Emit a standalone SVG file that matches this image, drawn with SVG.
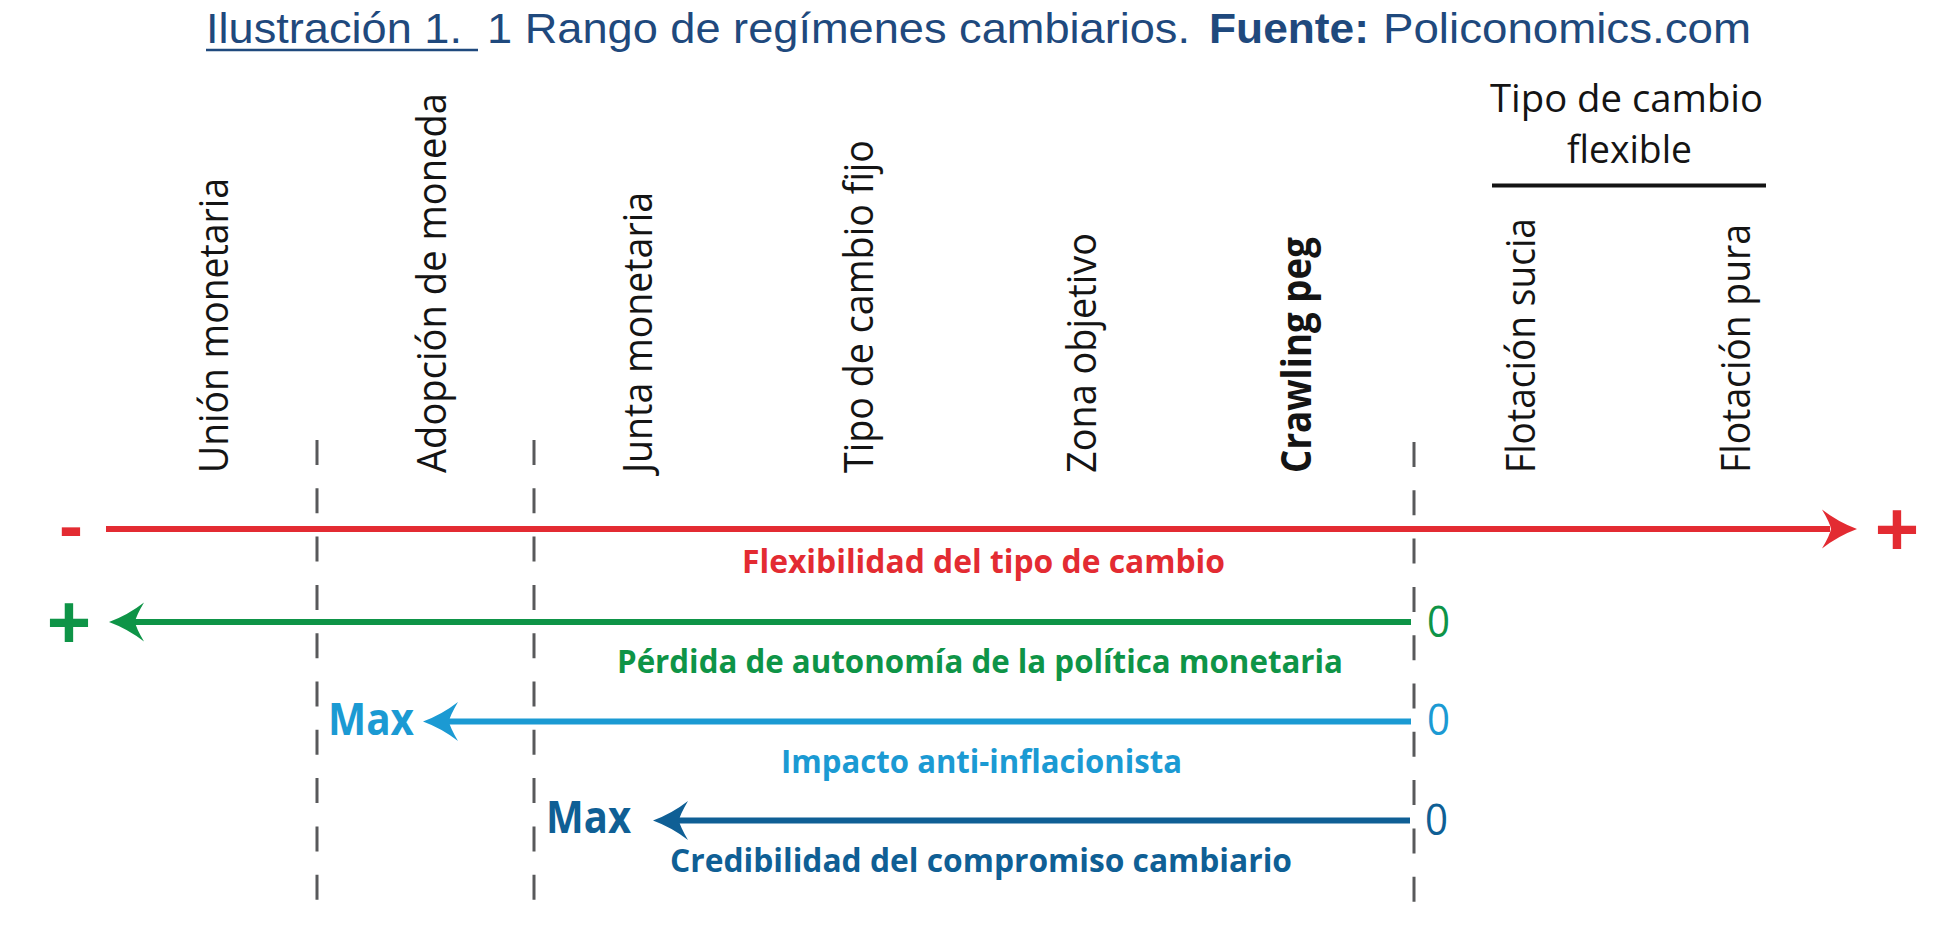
<svg xmlns="http://www.w3.org/2000/svg" xmlns:xlink="http://www.w3.org/1999/xlink" width="1960" height="927" viewBox="0 0 1960 927">
<style>
  .title { font-family: "Liberation Sans", Arial, sans-serif; font-size: 43px; fill: #1f497d; }
  .tb { font-weight: bold; }
  .reg { font-family: "Open Sans", "Noto Sans", sans-serif; font-size: 41px; fill: #141414; }
  .regb { font-weight: bold; }
  .hdr { font-family: "Open Sans", "Noto Sans", sans-serif; font-size: 38px; fill: #141414; }
  .lab { font-family: "Open Sans", "Noto Sans", sans-serif; font-size: 32px; font-weight: bold; }
  .max { font-family: "Open Sans", "Noto Sans", sans-serif; font-size: 45px; font-weight: bold; }
  .zero { font-family: "Open Sans", "Noto Sans", sans-serif; font-size: 44px; }
  .sym { font-family: "Liberation Sans", Arial, sans-serif; font-weight: bold; }
  .dash { stroke: #58595b; stroke-width: 3; stroke-dasharray: 25 23.3; fill: none; }
  .red { fill: #e32b32; } .green { fill: #0e9447; } .lblue { fill: #1b9ad3; } .dblue { fill: #0f5f95; }
  .sred { stroke: #e32b32; } .sgreen { stroke: #0e9447; } .slblue { stroke: #1b9ad3; } .sdblue { stroke: #0f5f95; }
  .shaft { stroke-width: 6; fill: none; }
</style>
<defs>
  <path id="ah" d="M0,0 Q-19,-7 -35,-19.5 Q-27,-6 -26,0 Q-27,6 -35,19.5 Q-19,7 0,0 Z"/>
</defs>
<rect width="1960" height="927" fill="#ffffff"/>

<g id="title">
  <text class="title" x="206" y="43" textLength="256" lengthAdjust="spacingAndGlyphs">Ilustración 1.</text>
  <line x1="206" y1="50" x2="478" y2="50" stroke="#1f497d" stroke-width="2.5"/>
  <text class="title" x="487" y="43" textLength="703" lengthAdjust="spacingAndGlyphs">1 Rango de regímenes cambiarios.</text>
  <text class="title tb" x="1209" y="43" textLength="160" lengthAdjust="spacingAndGlyphs">Fuente:</text>
  <text class="title" x="1383" y="43" textLength="368" lengthAdjust="spacingAndGlyphs">Policonomics.com</text>
</g>

<g id="connectors">
  <line class="dash" x1="317" y1="440" x2="317" y2="903"/>
  <line class="dash" x1="534" y1="440" x2="534" y2="903"/>
  <line class="dash" x1="1414" y1="442" x2="1414" y2="905"/>
  <line x1="1492" y1="185.5" x2="1766" y2="185.5" stroke="#141414" stroke-width="4"/>
  <g id="arrow-flexibilidad">
    <line class="shaft sred" x1="106" y1="529" x2="1830" y2="529"/>
    <use xlink:href="#ah" class="red" transform="translate(1857,529)"/>
  </g>
  <g id="arrow-autonomia">
    <line class="shaft sgreen" x1="135" y1="622" x2="1411" y2="622" stroke-width="5.5"/>
    <use xlink:href="#ah" class="green" transform="translate(109,622) scale(-1,1)"/>
  </g>
  <g id="arrow-inflacion">
    <line class="shaft slblue" x1="448" y1="721.5" x2="1411" y2="721.5" stroke-width="5.5"/>
    <use xlink:href="#ah" class="lblue" transform="translate(423,721.5) scale(-1,1)"/>
  </g>
  <g id="arrow-credibilidad">
    <line class="shaft sdblue" x1="678" y1="820.5" x2="1410" y2="820.5" stroke-width="5.5"/>
    <use xlink:href="#ah" class="dblue" transform="translate(653,820.5) scale(-1,1)"/>
  </g>
</g>

<g id="regimes">
  <g id="union-monetaria"><text class="reg" transform="translate(228,473) rotate(-90)" textLength="295" lengthAdjust="spacingAndGlyphs">Unión monetaria</text></g>
  <g id="adopcion-moneda"><text class="reg" transform="translate(446,473) rotate(-90)" textLength="380" lengthAdjust="spacingAndGlyphs">Adopción de moneda</text></g>
  <g id="junta-monetaria"><text class="reg" transform="translate(652,473) rotate(-90)" textLength="281" lengthAdjust="spacingAndGlyphs">Junta monetaria</text></g>
  <g id="tipo-cambio-fijo"><text class="reg" transform="translate(873,473) rotate(-90)" textLength="333" lengthAdjust="spacingAndGlyphs">Tipo de cambio fijo</text></g>
  <g id="zona-objetivo"><text class="reg" transform="translate(1096,473) rotate(-90)" textLength="240" lengthAdjust="spacingAndGlyphs">Zona objetivo</text></g>
  <g id="crawling-peg"><text class="reg regb" transform="translate(1311,473) rotate(-90)" textLength="236" lengthAdjust="spacingAndGlyphs">Crawling peg</text></g>
  <g id="flotacion-sucia"><text class="reg" transform="translate(1535,473) rotate(-90)" textLength="255" lengthAdjust="spacingAndGlyphs">Flotación sucia</text></g>
  <g id="flotacion-pura"><text class="reg" transform="translate(1750,473) rotate(-90)" textLength="249" lengthAdjust="spacingAndGlyphs">Flotación pura</text></g>
  <g id="tipo-cambio-flexible">
    <text class="hdr" x="1490" y="112" textLength="273" lengthAdjust="spacingAndGlyphs">Tipo de cambio</text>
    <text class="hdr" x="1567" y="163" textLength="125" lengthAdjust="spacingAndGlyphs">flexible</text>
  </g>
</g>

<g id="axis-labels">
  <text class="sym red" x="71" y="550" font-size="72" text-anchor="middle">-</text>
  <text class="sym red" x="1897" y="555" font-size="76" text-anchor="middle">+</text>
  <text class="sym green" x="69" y="648" font-size="76" text-anchor="middle">+</text>
  <text class="lab red" x="742" y="573" textLength="483" lengthAdjust="spacingAndGlyphs">Flexibilidad del tipo de cambio</text>
  <text class="lab green" x="617" y="673" textLength="726" lengthAdjust="spacingAndGlyphs">Pérdida de autonomía de la política monetaria</text>
  <text class="lab lblue" x="781" y="773" textLength="401" lengthAdjust="spacingAndGlyphs">Impacto anti-inflacionista</text>
  <text class="lab dblue" x="670" y="872" textLength="622" lengthAdjust="spacingAndGlyphs">Credibilidad del compromiso cambiario</text>
  <text class="max lblue" x="328" y="735" textLength="86" lengthAdjust="spacingAndGlyphs">Max</text>
  <text class="max dblue" x="546" y="833" textLength="85" lengthAdjust="spacingAndGlyphs">Max</text>
  <text class="zero green" x="1427" y="637" textLength="23" lengthAdjust="spacingAndGlyphs">0</text>
  <text class="zero lblue" x="1427" y="735" textLength="23" lengthAdjust="spacingAndGlyphs">0</text>
  <text class="zero dblue" x="1425" y="835" textLength="23" lengthAdjust="spacingAndGlyphs">0</text>
</g>
</svg>
